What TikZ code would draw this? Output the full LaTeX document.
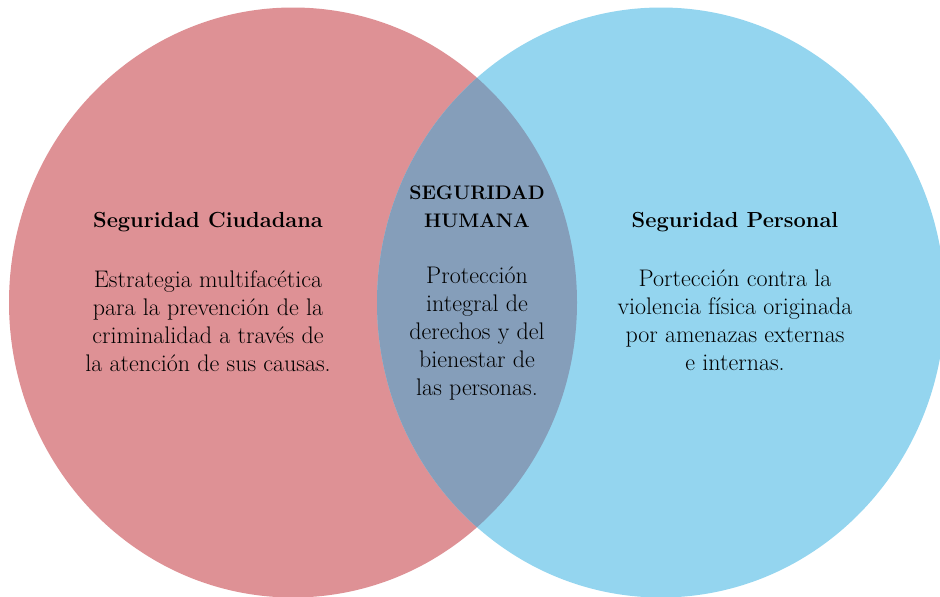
\documentclass[tikz,border=0pt]{standalone}
\usepackage{tikz}
\usetikzlibrary{positioning}
\definecolor{rosaC}{RGB}{222,145,149}
\definecolor{celesteP}{RGB}{148,213,239}
\definecolor{grisH}{RGB}{133,158,186}

\begin{document}
\begin{tikzpicture}[
    x=1pt, y=-1pt,
    node distance=38pt,
    titulo/.style={font=\fontsize{21.8}{28}\selectfont\bfseries, align=center, inner sep=0pt},
    cuerpo/.style={font=\fontsize{24}{28}\selectfont, align=center, inner sep=0pt, anchor=north},
    circulo/.style={x radius=284, y radius=295}
]
    \useasboundingbox (0,0) rectangle (940,597);

    % Circulos
    \fill[rosaC] (293,302.5) ellipse [circulo];
    \fill[celesteP] (661,302.5) ellipse [circulo];
    \begin{scope}
        \clip (293,302.5) ellipse [circulo];
        \fill[grisH] (661,302.5) ellipse [circulo];
    \end{scope}

    % Titulos
    \node[titulo] (ciudadana) at (208,222) {Seguridad Ciudadana};
    \node[titulo, font=\fontsize{19.6}{28}\selectfont\bfseries] (humana) at (477,207) {SEGURIDAD\\HUMANA};
    \node[titulo] (personal) at (735,222) {Seguridad Personal};

    % Textos
    \node[cuerpo, below=of ciudadana] (txtCiudadana) {Estrategia multifacética\\para la prevención de la\\criminalidad a través de\\la atención de sus causas.};
    \node[cuerpo, below=of humana] (txtHumana) {Protección\\integral de\\derechos y del\\bienestar de\\las personas.};
    \node[cuerpo, below=of personal] (txtPersonal) {Portección contra la\\violencia física originada\\por amenazas externas\\e internas.};
\end{tikzpicture}
\end{document}
